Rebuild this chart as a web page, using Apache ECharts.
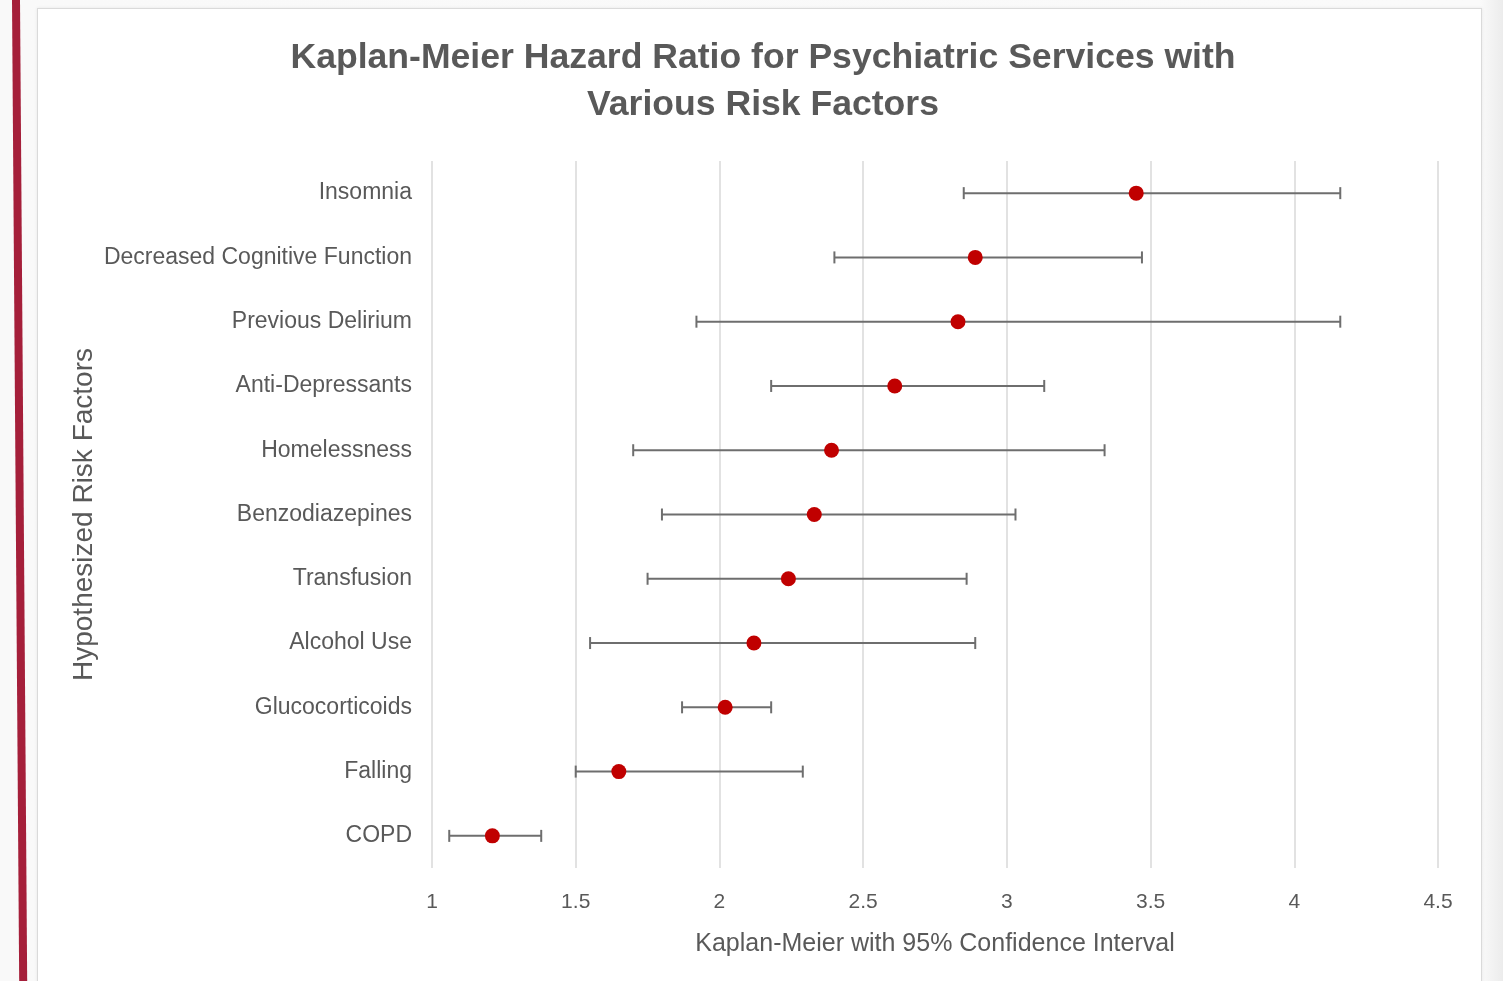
<!DOCTYPE html>
<html>
<head>
<meta charset="utf-8">
<script src="https://cdn.jsdelivr.net/npm/echarts@6/dist/echarts.min.js"></script>
<style>
  html, body { margin:0; padding:0; width:1503px; height:981px; overflow:hidden; background:#f7f7f7; }
  #bg { position:absolute; left:0; top:0; width:1503px; height:981px;
        background: linear-gradient(to right, #f9f9f9 0px, #fafafa 1480px, #ececec 1503px); }
  #redbar { position:absolute; left:12px; top:0; width:8px; height:981px; background:#a51f3a; transform: skewX(0.42deg); transform-origin: top left; }
  #card { position:absolute; left:37px; top:8px; width:1443px; height:990px; background:#fff; border:1px solid #dadada; box-shadow: 0 0 3px rgba(0,0,0,0.08); }
  #chart { position:absolute; left:0; top:0; width:1503px; height:981px; }
</style>
</head>
<body>
<div id="bg"></div>
<div id="redbar"></div>
<div id="card"></div>
<div id="chart"></div>
<script>
const categories = ['Insomnia','Decreased Cognitive Function','Previous Delirium','Anti-Depressants','Homelessness','Benzodiazepines','Transfusion','Alcohol Use','Glucocorticoids','Falling','COPD'];
const hazardRatio = [3.45, 2.89, 2.83, 2.61, 2.39, 2.33, 2.24, 2.12, 2.02, 1.65, 1.21];
const ciLower    = [2.85, 2.40, 1.92, 2.18, 1.70, 1.80, 1.75, 1.55, 1.87, 1.50, 1.06];
const ciUpper    = [4.16, 3.47, 4.16, 3.13, 3.34, 3.03, 2.86, 2.89, 2.18, 2.29, 1.38];
const xTicks = { min: 1, max: 4.5, interval: 0.5 };

const sans = '"Liberation Sans", Arial, sans-serif';
const chart = echarts.init(document.getElementById('chart'));
const errData = categories.map((c, i) => [c, ciLower[i], ciUpper[i]]);
const ptData = categories.map((c, i) => [hazardRatio[i], c]);

chart.setOption({
  backgroundColor: 'transparent',
  animation: false,
  title: {
    text: 'Kaplan-Meier Hazard Ratio for Psychiatric Services with\nVarious Risk Factors',
    left: 758, top: 30, textAlign: 'center',
    textStyle: { fontFamily: sans, fontWeight: 'bold', fontSize: 35.6, lineHeight: 47, color: '#595959' }
  },
  grid: { left: 432, right: 65, top: 161, bottom: 113 },
  xAxis: {
    type: 'value', min: xTicks.min, max: xTicks.max, interval: xTicks.interval,
    name: 'Kaplan-Meier with 95% Confidence Interval',
    nameLocation: 'middle', nameGap: 64,
    nameTextStyle: { fontFamily: sans, fontSize: 25, color: '#595959' },
    axisLine: { show: false }, axisTick: { show: false },
    axisLabel: { fontFamily: sans, fontSize: 21, color: '#595959', margin: 24 },
    splitLine: { show: true, lineStyle: { color: '#d9d9d9', width: 1.5 } }
  },
  yAxis: {
    type: 'category', data: categories, inverse: true,
    name: 'Hypothesized Risk Factors', nameLocation: 'middle', nameGap: 334, nameRotate: 90,
    nameMoveOverlap: false,
    nameTextStyle: { fontFamily: sans, fontSize: 28, color: '#595959' },
    axisLine: { show: false }, axisTick: { show: false },
    axisLabel: { fontFamily: sans, fontSize: 23, color: '#595959', margin: 20 },
    splitLine: { show: false }
  },
  series: [
    {
      type: 'custom',
      data: errData,
      encode: { y: 0, x: [1, 2] },
      renderItem: function (params, api) {
        const yi = api.value(0);
        const lo = api.coord([api.value(1), yi]);
        const hi = api.coord([api.value(2), yi]);
        const h = 6;
        const st = { stroke: '#6e6e6e', lineWidth: 2 };
        return { type: 'group', children: [
          { type: 'line', shape: { x1: lo[0], y1: lo[1], x2: hi[0], y2: hi[1] }, style: st },
          { type: 'line', shape: { x1: lo[0], y1: lo[1] - h, x2: lo[0], y2: lo[1] + h }, style: st },
          { type: 'line', shape: { x1: hi[0], y1: hi[1] - h, x2: hi[0], y2: hi[1] + h }, style: st }
        ]};
      },
      z: 2
    },
    {
      type: 'scatter',
      data: ptData,
      symbol: 'circle', symbolSize: 15,
      itemStyle: { color: '#c00000', opacity: 1 },
      z: 3
    }
  ]
});
</script>
</body>
</html>
